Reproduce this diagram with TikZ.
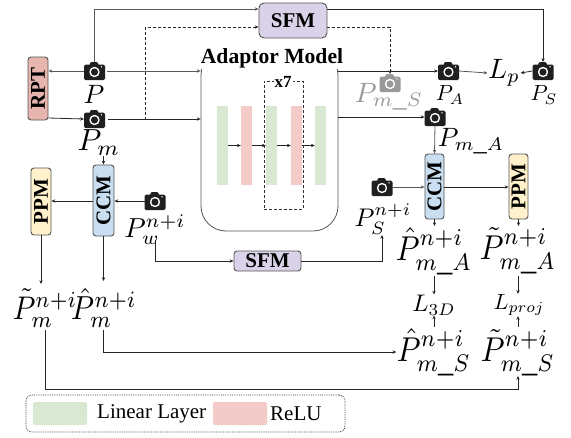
\documentclass[tikz,border=0pt]{standalone}
\usepackage{fontspec}
\setmainfont{Liberation Serif}
\usetikzlibrary{arrows.meta}
\definecolor{rptc}{HTML}{E6B5AE}
\definecolor{ccmc}{HTML}{C9DFF1}
\definecolor{ppmc}{HTML}{FFF1CC}
\definecolor{sfmc}{HTML}{DAD2E8}
\definecolor{greenc}{HTML}{D8E8D2}
\definecolor{pinkc}{HTML}{F3CBC9}
\definecolor{edgec}{HTML}{555555}
\tikzset{
  line/.style={line width=0.8pt,draw=black!85},
  arr/.style={line,-{Stealth[length=3.8pt,width=3.4pt]}},
  dasharr/.style={arr,dashed,dash pattern=on 3pt off 2pt},
  block/.style={draw=edgec,line width=0.9pt,rounded corners=3pt,inner sep=0pt,font=\fontsize{21}{21}\selectfont\bfseries},
  vblock/.style={block,minimum width=20pt},
  camera/.style={minimum width=21pt,minimum height=18pt,inner sep=0pt,outer sep=0pt,
    path picture={
      \fill[#1,rounded corners=1.5pt] (-10.5,-6.5) rectangle (10.5,9);
      \fill[#1,rounded corners=1pt] (-5.5,-4) -- (-4,-9) -- (3,-9) -- (5,-4) -- cycle;
      \fill[white] (0,1) circle (5.2);
      \fill[#1] (0,1) circle (3.6);
      \fill[white] (7,-4.2) circle (0.8);
    }},
  bigm/.style={inner sep=0pt,scale=#1},
  tallm/.style={inner sep=0pt,xscale=#1,yscale=1.13*#1},
  bar/.style={minimum width=11pt,minimum height=79pt,inner sep=0pt},
  swatch/.style={minimum width=54pt,minimum height=23pt,inner sep=0pt,rounded corners=2pt},
  legendt/.style={inner sep=0pt,font=\fontsize{21}{21}\selectfont},
}
\begin{document}
\begin{tikzpicture}[x=1pt,y=-1pt]
\useasboundingbox (0,0) rectangle (571,437);

% adaptor
\node[draw=edgec,line width=0.8pt,rounded corners=25pt,minimum width=137pt,minimum height=181pt,inner sep=0pt] (adaptor) at (269.5,140.5) {};
\node[inner sep=0pt,fill=white,minimum width=146pt,minimum height=21pt,font=\fontsize{21.6}{21}\selectfont\bfseries] (title) at (272,58.5) {Adaptor Model};
\node[draw=black!80,dashed,dash pattern=on 3pt off 2pt,line width=0.7pt,minimum width=39pt,minimum height=128pt,inner sep=0pt] (rep) at (283.5,145) {};
\node[inner sep=1pt,fill=white,font=\fontsize{17}{17}\selectfont\bfseries] (xseven) at (283,82) {x7};
\node[bar,fill=greenc] (g1) at (222.5,145.5) {};
\node[bar,fill=pinkc] (r1) at (246.5,145.5) {};
\node[bar,fill=greenc] (g2) at (271.5,145.5) {};
\node[bar,fill=pinkc] (r2) at (296.5,145.5) {};
\node[bar,fill=greenc] (g3) at (320.5,145.5) {};
\draw[arr] (g1) -- (r1);
\draw[arr] (r1) -- (g2);
\draw[arr] (g2) -- (r2);
\draw[arr] (r2) -- (g3);

% blocks
\node[block,fill=sfmc,minimum width=68pt,minimum height=35pt,rounded corners=5pt] (sfmtop) at (293,20.5) {SFM};
\node[block,fill=sfmc,minimum width=67pt,minimum height=20pt] (sfmbot) at (267.5,261) {SFM};
\node[vblock,fill=rptc,minimum height=20pt,minimum width=63pt,rotate=90] (rpt) at (38,88.5) {RPT};
\node[vblock,fill=ccmc,minimum height=21pt,minimum width=71pt,rotate=90] (ccml) at (103.5,200.5) {CCM};
\node[vblock,fill=ppmc,minimum height=20pt,minimum width=67pt,rotate=90] (ppml) at (41,201.5) {PPM};
\node[vblock,fill=ccmc,minimum height=19pt,minimum width=65pt,rotate=90] (ccmr) at (434.5,186.5) {CCM};
\node[vblock,fill=ppmc,minimum height=19pt,minimum width=65pt,rotate=90] (ppmr) at (518.5,186.5) {PPM};

% cameras
\node[camera=black!88] (camP) at (94.5,71) {};
\node[camera=black!88] (camPm) at (94.5,119) {};
\node[camera=black!88] (camPw) at (155,201) {};
\node[camera=black!40] (camPms) at (390,83) {};
\node[camera=black!88] (camPA) at (448.5,71) {};
\node[camera=black!88] (camPS) at (543,71) {};
\node[camera=black!88] (camPmA) at (435,117) {};
\node[camera=black!88] (camPSn) at (382,187) {};

% labels
\node[bigm=2.65] (lP) at (94,94) {$P$};
\node[bigm=3.05] (lPm) at (99,142.5) {$P_m$};
\node[bigm=2.8,text=black!40] (lPms) at (389,97) {$P_{m\_S}$};
\node[bigm=2.2] (lPA) at (450,95) {$P_A$};
\node[bigm=2.8] (lLp) at (504,73) {$L_p$};
\node[bigm=2.2] (lPS) at (544,95) {$P_S$};
\node[bigm=2.65] (lPmA) at (471,141) {$P_{m\_A}$};
\node[bigm=2.75] (lPw) at (155,230) {$P_w^{n+i}$};
\node[bigm=2.55] (lPSn) at (383,219) {$P_S^{n+i}$};
\node[tallm=2.9] (ltm) at (45,308) {$\tilde P_m^{n+i}$};
\node[tallm=2.95] (lhm) at (104,308) {$\hat P_m^{n+i}$};
\node[tallm=3.05] (lhA) at (434,251) {$\hat P_{m\_A}^{n+i}$};
\node[tallm=3.05] (ltA) at (518,251) {$\tilde P_{m\_A}^{n+i}$};
\node[bigm=2.4] (l3d) at (434,305) {$L_{3D}$};
\node[bigm=2.2] (lproj) at (519,305) {$L_{proj}$};
\node[tallm=3.05] (lhS) at (434,352.5) {$\hat P_{m\_S}^{n+i}$};
\node[tallm=3.05] (ltS) at (518,352.5) {$\tilde P_{m\_S}^{n+i}$};

% top connectors
\draw[arr,line width=1pt,draw=black!65] (camP.north) |- ([yshift=11.5pt]sfmtop.west);
\coordinate (dashcorner) at (145,27);
\coordinate (dashstart) at (145,119.5);
\draw[dasharr] (dashstart) -- (dashcorner) -- ([yshift=-6.5pt]sfmtop.west);
\draw[arr,draw=black!65,line width=1pt] (camP.west) -- (rpt.south |- camP.west);
\draw[arr,draw=black!65,line width=1pt] ([xshift=2pt]camP.east) -- (adaptor.west |- camP.east);
\draw[arr] ([yshift=-29.5pt]rpt.south) -- (camPm.west);
\draw[arr] ([xshift=3pt]camPm.east) -- (adaptor.west |- camPm.east);
\draw[arr] ([yshift=11.5pt]sfmtop.east) -| (camPS.north);
\draw[dasharr] ([yshift=-6.5pt]sfmtop.east) -| (camPms.north);
\draw[arr] (adaptor.east |- camPA.west) -- (camPA.west);
\draw[arr,draw=black!65] (camPA.east) -- (lLp.west);
\draw[arr] (camPS.west) -- (lLp.east);
\draw[arr] (adaptor.east |- camPmA.west) -- (camPmA.west);
\draw[arr,draw=black!65] (camPmA.south) -- (ccmr.east);
\draw[arr,draw=black!65] (camPSn.east) -- (ccmr.north |- camPSn.east);
\draw[arr] (ccmr.south |- camPSn.east) -- (ppmr.north |- camPSn.east);

% left group
\draw[arr] (ccml.east |- lPm.south) -- (ccml.east);
\draw[arr] (camPw.west) -- (ccml.south |- camPw.west);
\draw[arr] (ccml.north |- camPw.west) -- (ppml.south |- camPw.west);
\coordinate (hmtip) at (103.5,281);
\coordinate (tmtip) at (41,284);
\draw[arr] (ccml.west) -- (hmtip);
\draw[arr] (ppml.west) -- (tmtip);
\coordinate (pwtail) at (155,240);
\draw[arr] (pwtail) |- (sfmbot.west);
\coordinate (pstip) at (382,235);
\draw[arr] (sfmbot.east) -| (pstip);

% right group
\coordinate (hatip) at (434.5,226);
\coordinate (tatip) at (518.5,226);
\draw[arr] (ccmr.west) -- (hatip);
\draw[arr] (ppmr.west) -- (tatip);
\coordinate (a3) at (434,276);
\coordinate (ap) at (518,276);
\coordinate (b3) at (434,327);
\coordinate (bp) at (518,327);
\draw[arr] (a3) -- (a3 |- l3d.north);
\draw[arr] (ap) -- (ap |- lproj.north);
\draw[arr] (b3) -- (b3 |- l3d.south);
\draw[arr] (bp) -- (bp |- lproj.south);

% long routes
\coordinate (hmtail) at (103.5,330);
\coordinate (tmtail) at (45,330);
\coordinate (tstip) at (518,376);
\draw[arr] (hmtail) |- (lhS.west |- 0,352);
\draw[arr] (tmtail) |- (tstip |- 0,389) -- (tstip);

% legend
\node[draw=black!80,densely dotted,line width=0.8pt,rounded corners=6pt,minimum width=319pt,minimum height=37pt,inner sep=0pt] (legend) at (185.5,413.5) {};
\node[swatch,fill=greenc] (sw1) at (60,413.5) {};
\node[legendt,anchor=west] (t1) at (97,414) {Linear Layer};
\node[swatch,fill=pinkc] (sw2) at (240,413.5) {};
\node[legendt,anchor=west] (t2) at (270,414) {ReLU};
\end{tikzpicture}
\end{document}
